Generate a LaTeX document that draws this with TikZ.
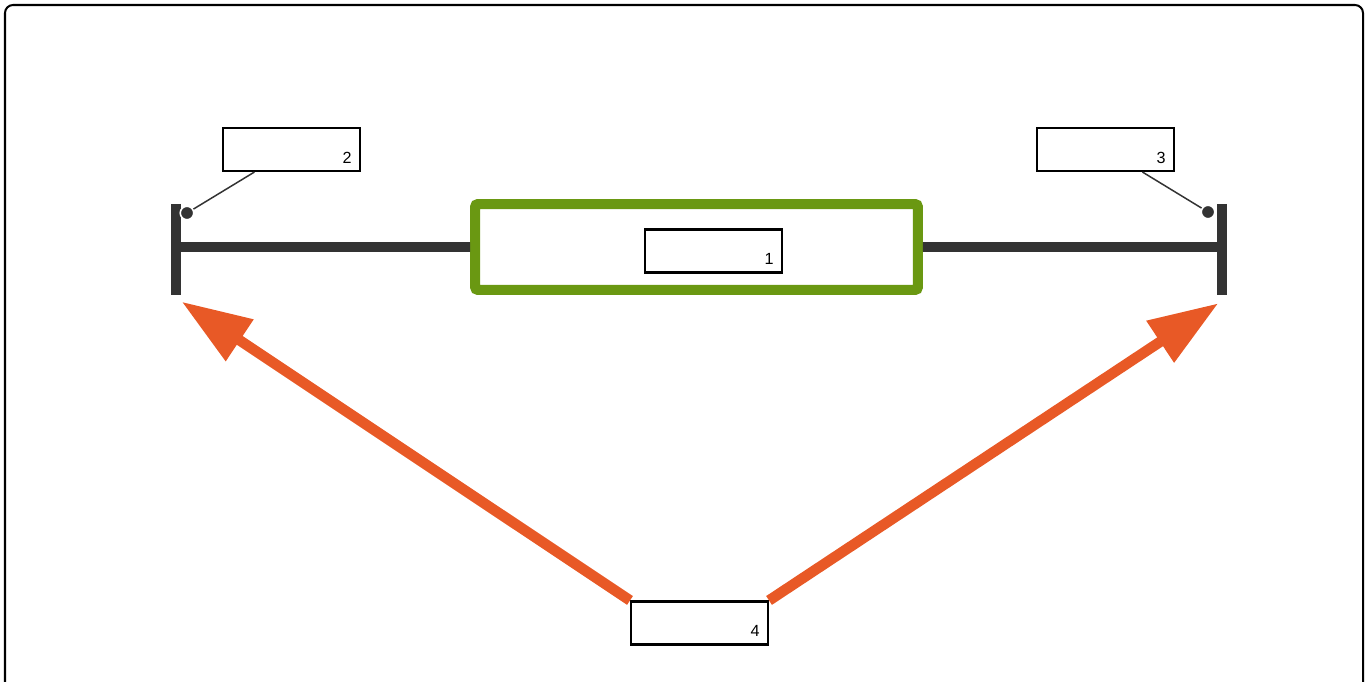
\documentclass[tikz,border=0pt]{standalone}
\usepackage{fontspec}
\setmainfont{Liberation Sans}
\usetikzlibrary{arrows.meta,calc,positioning}

\begin{document}
\begin{tikzpicture}[
  x=0.02cm,
  y=-0.02cm,
  >=Latex,
  font=\fontsize{9.2}{11}\selectfont,
  tagbox/.style={draw=black, line width=1.2pt, fill=white,
    minimum width=2.74cm, minimum height=0.86cm, inner sep=0pt},
  tagnum/.style={anchor=south east, inner sep=0pt, xshift=-0.18cm, yshift=0.17cm},
  rail/.style={draw=railgray, line width=5.6pt},
  pindot/.style={circle, fill=railgray, draw=white, line width=0.9pt,
    minimum size=0.27cm, inner sep=0pt},
  leader/.style={draw=railgray, line width=0.85pt},
  pointer/.style={draw=arroworange, line width=6pt,
    -{Triangle[length=39.7pt,width=27pt]}}
]
  \definecolor{railgray}{RGB}{51,51,51}
  \definecolor{bodygreen}{RGB}{106,152,18}
  \definecolor{arroworange}{RGB}{232,89,38}

  \useasboundingbox (0,0) rectangle (1369,682);
  \clip (0,0) rectangle (1369,682);

  % outer frame, bottom edge runs off the page
  \draw[black, line width=1.15pt, rounded corners=0.16cm] (5,5) rectangle (1363,700);

  % end stops and rail
  \coordinate (stopLtop) at (176,204);
  \coordinate (stopLbot) at (176,295);
  \coordinate (stopRtop) at (1222,204);
  \coordinate (stopRbot) at (1222,295);
  \draw[rail] (stopLtop) -- (stopLbot);
  \draw[rail] (stopRtop) -- (stopRbot);

  \node[draw=bodygreen, line width=5.7pt, rounded corners=0.06cm, fill=white,
    minimum width=8.86cm, minimum height=1.72cm] (body) at (696.5,247) {};
  \draw[rail] ($(stopLtop)!0.473!(stopLbot)$) -- (body.west);
  \draw[rail] (body.east) -- ($(stopRtop)!0.473!(stopRbot)$);

  % labels
  \node[tagbox, label={[tagnum]south east:1}] (tag1) at (713.5,251) {};
  \node[tagbox, label={[tagnum]south east:2}] (tag2) at (291.5,149.5) {};
  \node[tagbox, label={[tagnum]south east:3}] (tag3) at (1105.5,149.5) {};
  \node[tagbox, label={[tagnum]south east:4}] (tag4) at (699.5,623) {};

  % leader lines to the stops
  \node[pindot] (pinL) at (187,213) {};
  \node[pindot] (pinR) at (1208,212) {};
  \draw[leader] (pinL) -- (tag2);
  \draw[leader] (pinR) -- (tag3);

  % arrows from label 4
  \coordinate (tipL) at (181.7,301.7);
  \coordinate (tipR) at (1218.3,303.3);
  \draw[pointer] (tag4.north west) -- (tipL);
  \draw[pointer] (tag4.north east) -- (tipR);
\end{tikzpicture}
\end{document}
